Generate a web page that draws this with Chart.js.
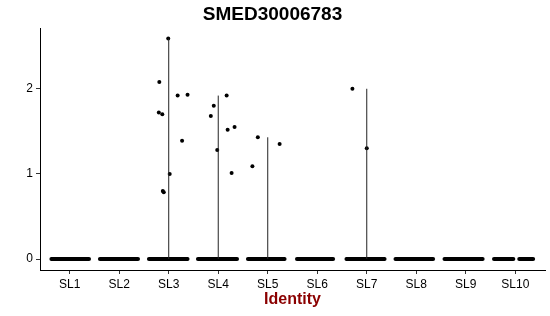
<!DOCTYPE html>
<html>
<head>
<meta charset="utf-8">
<script src="https://cdn.jsdelivr.net/npm/chart.js@4.4.1/dist/chart.umd.min.js"></script>
<style>
  html, body { margin: 0; padding: 0; background: #fff; }
</style>
</head>
<body>
<canvas id="vln" width="550" height="316"></canvas>
<script>
const IDENTS  = ['SL1', 'SL2', 'SL3', 'SL4', 'SL5', 'SL6', 'SL7', 'SL8', 'SL9', 'SL10'];
const Y_TICKS = [0, 1, 2];

// violin height per identity (violins collapse to a line, since almost all cells are 0)
const VLN_MAX = [0, 0, 2.59, 1.92, 1.43, 0, 2.0, 0, 0, 0];

// extent of the jittered band of zero-expression cells (x in category units)
const ZERO_FROM = [0.63, 1.61, 2.60, 3.59, 4.60, 5.59, 6.59, 7.58, 8.57, 9.57, 10.08];
const ZERO_TO   = [1.39, 2.38, 3.38, 4.38, 5.34, 6.32, 7.36, 8.34, 9.34, 9.96, 10.36];

// cells with non-zero expression (jittered x, expression y)
const EXPR_X = [2.99, 2.81, 2.80, 2.87, 3.18, 3.38, 3.27, 3.02, 2.88, 2.90,
                3.85, 3.91, 3.98, 4.17, 4.19, 4.33, 4.27,
                4.69, 4.80, 5.24,
                6.71, 7.00];
const EXPR_Y = [2.59, 2.08, 1.72, 1.70, 1.92, 1.93, 1.39, 1.00, 0.80, 0.785,
                1.68, 1.80, 1.28, 1.92, 1.52, 1.55, 1.01,
                1.09, 1.43, 1.35,
                2.00, 1.30];

const FONT = 'Arial, "Liberation Sans", Helvetica, sans-serif';

function buildDatasets() {
  const sets = [];
  // violins first, like ggplot
  VLN_MAX.forEach((m, i) => {
    if (!m) return;
    sets.push({
      showLine: true,
      data: [{ x: i + 1, y: 0 }, { x: i + 1, y: m }],
      borderColor: '#222',
      borderWidth: 1,
      pointRadius: 0,
    });
  });
  ZERO_FROM.forEach((from, i) => {
    sets.push({
      showLine: true,
      data: [{ x: from, y: 0 }, { x: ZERO_TO[i], y: 0 }],
      borderColor: '#000',
      borderWidth: 4,
      borderCapStyle: 'round',
      pointRadius: 0,
    });
  });
  sets.push({
    data: EXPR_X.map((x, i) => ({ x, y: EXPR_Y[i] })),
    backgroundColor: '#000',
    borderWidth: 0,
    pointRadius: 2,
  });
  return sets;
}

new Chart(document.getElementById('vln'), {
  type: 'scatter',
  data: { datasets: buildDatasets() },
  options: {
    responsive: false,
    animation: false,
    layout: { padding: { left: 0, right: 5, top: 0, bottom: 0 } },
    plugins: {
      legend: { display: false },
      tooltip: { enabled: false },
      title: {
        display: true,
        text: 'SMED30006783',
        color: '#000',
        font: { family: FONT, size: 19, weight: 'bold' },
        padding: { top: 3, bottom: 2.2 },
      },
    },
    scales: {
      x: {
        type: 'linear',
        min: 0.4,
        max: 10.6,
        afterBuildTicks: s => { s.ticks = IDENTS.map((_, i) => ({ value: i + 1 })); },
        afterFit: s => { s.height = 46; },
        ticks: {
          autoSkip: false,
          maxRotation: 0,
          color: '#000',
          padding: 3,
          font: { family: FONT, size: 12 },
          callback: v => IDENTS[v - 1],
        },
        grid: { drawOnChartArea: false, tickLength: 4, color: '#333' },
        border: { color: '#000', width: 1 },
        title: {
          display: true,
          text: 'Identity',
          color: '#8B0000',
          font: { family: FONT, size: 16, weight: 'bold' },
          padding: { top: 0, bottom: 6.4 },
        },
      },
      y: {
        min: -0.129,
        max: 2.714,
        afterBuildTicks: s => { s.ticks = Y_TICKS.map(v => ({ value: v })); },
        afterFit: s => { s.width = 40; },
        ticks: {
          color: '#000',
          padding: 3,
          font: { family: FONT, size: 12 },
        },
        grid: { drawOnChartArea: false, tickLength: 4, color: '#333' },
        border: { color: '#000', width: 1 },
      },
    },
  },
});
</script>
</body>
</html>
